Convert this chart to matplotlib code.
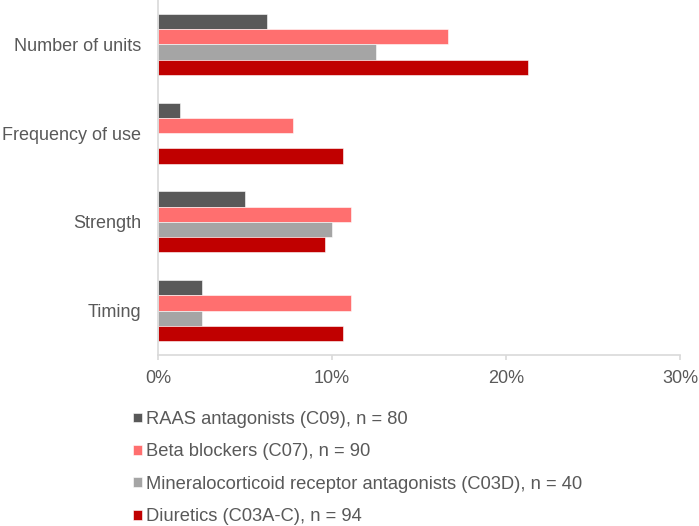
"""
Grouped horizontal bar chart: share of dispensings changed, by change type
and drug class.
"""

import numpy as np
import matplotlib
matplotlib.use("Agg")
import matplotlib.pyplot as plt
from matplotlib.ticker import FuncFormatter


# -------------------------
# Data (percent)
# -------------------------
categories = ["Number of units", "Frequency of use", "Strength", "Timing"]
series_labels = [
    "RAAS antagonists (C09), n = 80",
    "Beta blockers (C07), n = 90",
    "Mineralocorticoid receptor antagonists (C03D), n = 40",
    "Diuretics (C03A-C), n = 94",
]
raas = [6.25, 1.25, 5.0, 2.5]
beta = [16.67, 7.78, 11.11, 11.11]
mra = [12.5, 0.0, 10.0, 2.5]
diuretics = [21.28, 10.64, 9.57, 10.64]
x_ticks = [0, 10, 20, 30]

# -------------------------
# Style
# -------------------------
COLORS = ["#595959", "#ff6f6f", "#a5a5a5", "#c00000"]
TEXT_COLOR = "#595959"
AXIS_COLOR = "#d9d9d9"
BAR_H = 0.172
FONT_SIZE = 13

plt.rcParams["font.family"] = ["Liberation Sans", "DejaVu Sans"]


def main():
    fig = plt.figure(figsize=(6.99, 5.26), dpi=100)
    ax = fig.add_axes([158 / 699, 1 - 355 / 526, (680 - 158) / 699, 355 / 526])

    y = np.arange(len(categories))
    all_series = [raas, beta, mra, diuretics]
    offsets = (np.arange(4) - 1.5) * BAR_H
    for vals, off, col, lab in zip(all_series, offsets, COLORS, series_labels):
        ax.barh(y + off, vals, height=BAR_H, color=col, label=lab,
                edgecolor="white", linewidth=0.4)

    ax.set_ylim(len(categories) - 0.5, -0.5)
    ax.set_xlim(0, 30)
    ax.set_xticks(x_ticks)
    ax.xaxis.set_major_formatter(FuncFormatter(lambda v, _: f"{v:.0f}%"))
    ax.set_yticks(y)
    ax.set_yticklabels(categories)

    for side in ["top", "right"]:
        ax.spines[side].set_visible(False)
    for side in ["left", "bottom"]:
        ax.spines[side].set_color(AXIS_COLOR)
        ax.spines[side].set_linewidth(1.2)

    ax.tick_params(axis="x", colors=AXIS_COLOR, labelcolor=TEXT_COLOR,
                   labelsize=FONT_SIZE, length=3.6, width=1.2, pad=7)
    ax.tick_params(axis="y", length=0, labelcolor=TEXT_COLOR,
                   labelsize=FONT_SIZE, pad=12)

    # legend below the plot, one entry per row
    handles, labels = ax.get_legend_handles_labels()
    leg = fig.legend(handles, labels, loc="upper left",
                     bbox_to_anchor=(133 / 699, 1 - 411 / 526),
                     frameon=False, fontsize=13.2,
                     handlelength=0.5, handleheight=0.45, handletextpad=0.22,
                     labelspacing=0.84, borderaxespad=0, borderpad=0)
    for t in leg.get_texts():
        t.set_color(TEXT_COLOR)

    fig.savefig("out.png", dpi=100)
    plt.close(fig)


if __name__ == "__main__":
    main()
